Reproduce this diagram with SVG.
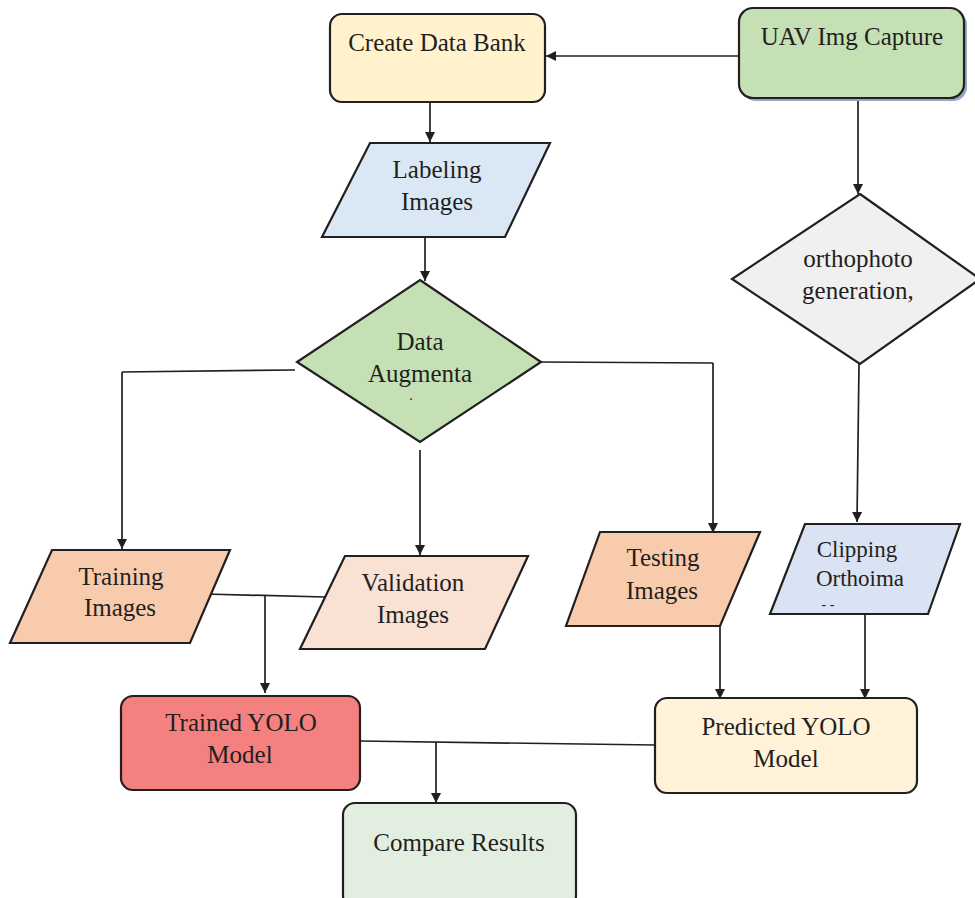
<svg xmlns="http://www.w3.org/2000/svg" width="975" height="898" viewBox="0 0 975 898">
<style>
.n{stroke:#231f20;stroke-width:2.2}
.t{font-family:"Liberation Serif","Times New Roman",serif;font-size:25px;fill:#231f20;text-anchor:middle}
.c{fill:none;stroke:#231f20;stroke-width:1.7}
.a{fill:none;stroke:#231f20;stroke-width:1.7;marker-end:url(#ah)}
</style>
<defs>
<marker id="ah" viewBox="0 0 10 10" refX="10" refY="5" markerWidth="12" markerHeight="10" markerUnits="userSpaceOnUse" orient="auto">
<path d="M0,0 L10,5 L0,10 z" fill="#231f20"/>
</marker>
</defs>
<rect width="975" height="898" fill="#fff"/>
<g id="connectors">
<path class="a" d="M739,56 L546,56"/>
<path class="a" d="M430,98 L430,142"/>
<path class="a" d="M425,237 L425,281"/>
<path class="c" d="M295,370 L122,372"/>
<path class="a" d="M122,372 L122,549"/>
<path class="c" d="M541,362 L713,363"/>
<path class="a" d="M713,363 L713,533"/>
<path class="a" d="M420,450 L420,555"/>
<path class="c" d="M205,594 L325,597"/>
<path class="a" d="M265,596 L265,693"/>
<path class="a" d="M858,98 L858,194"/>
<path class="a" d="M859,364 L857,522"/>
<path class="a" d="M720,620 L720,699"/>
<path class="a" d="M865,614 L865,699"/>
<path class="c" d="M360,741 L655,745"/>
<path class="a" d="M436,742 L436,803"/>
</g>
<g id="create-data-bank">
<rect class="n" x="330" y="14" width="215" height="88" rx="12" fill="#FFF2CC"/>
<text class="t" x="437" y="51">Create Data Bank</text>
</g>
<g id="uav-img-capture">
<rect x="742" y="11" width="225" height="90" rx="14" fill="#8fa9c9"/>
<rect class="n" x="739" y="8" width="225" height="90" rx="14" fill="#C5E0B4"/>
<text class="t" x="852" y="45">UAV Img Capture</text>
</g>
<g id="labeling-images">
<polygon class="n" points="370,143 550,143 505,237 322,237" fill="#DAE8F5"/>
<text class="t" x="437" y="178">Labeling</text>
<text class="t" x="437" y="210">Images</text>
</g>
<g id="data-augmentation">
<polygon class="n" points="420,280 541,362 420,442 297,362" fill="#C5E0B4"/>
<text class="t" x="420" y="350">Data</text>
<text class="t" x="420" y="382">Augmenta</text>
<text class="t" x="411" y="400" style="font-size:14px">.</text>
</g>
<g id="orthophoto-generation">
<polygon class="n" points="860,194 980,279 860,364 732,279" fill="#F0F0F0"/>
<text class="t" x="858" y="267">orthophoto</text>
<text class="t" x="858" y="299">generation,</text>
</g>
<g id="training-images">
<polygon class="n" points="52,550 230,550 190,643 10,643" fill="#F8CBAD"/>
<text class="t" x="121" y="585">Training</text>
<text class="t" x="120" y="616">Images</text>
</g>
<g id="validation-images">
<polygon class="n" points="345,556 528,556 485,649 300,649" fill="#F9E2D4"/>
<text class="t" x="413" y="591">Validation</text>
<text class="t" x="413" y="623">Images</text>
</g>
<g id="testing-images">
<polygon class="n" points="600,532 760,532 720,626 566,626" fill="#F8CBAD"/>
<text class="t" x="663" y="566">Testing</text>
<text class="t" x="662" y="599">Images</text>
</g>
<g id="clipping-orthoimage">
<polygon class="n" points="805,524 960,524 928,614 770,614" fill="#DAE3F3"/>
<text class="t" x="857" y="557" style="font-size:23px">Clipping</text>
<text class="t" x="860" y="586" style="font-size:23px">Orthoima</text>
<text class="t" x="828" y="609" style="font-size:14px">- -</text>
</g>
<g id="trained-yolo-model">
<rect class="n" x="121" y="696" width="239" height="94" rx="12" fill="#F4807F"/>
<text class="t" x="241" y="731">Trained YOLO</text>
<text class="t" x="240" y="763">Model</text>
</g>
<g id="predicted-yolo-model">
<rect class="n" x="655" y="698" width="262" height="95" rx="12" fill="#FFF2D9"/>
<text class="t" x="786" y="735">Predicted YOLO</text>
<text class="t" x="786" y="767">Model</text>
</g>
<g id="compare-results">
<rect class="n" x="343" y="803" width="233" height="105" rx="12" fill="#E2EFE0"/>
<text class="t" x="459" y="851">Compare Results</text>
</g>
</svg>
